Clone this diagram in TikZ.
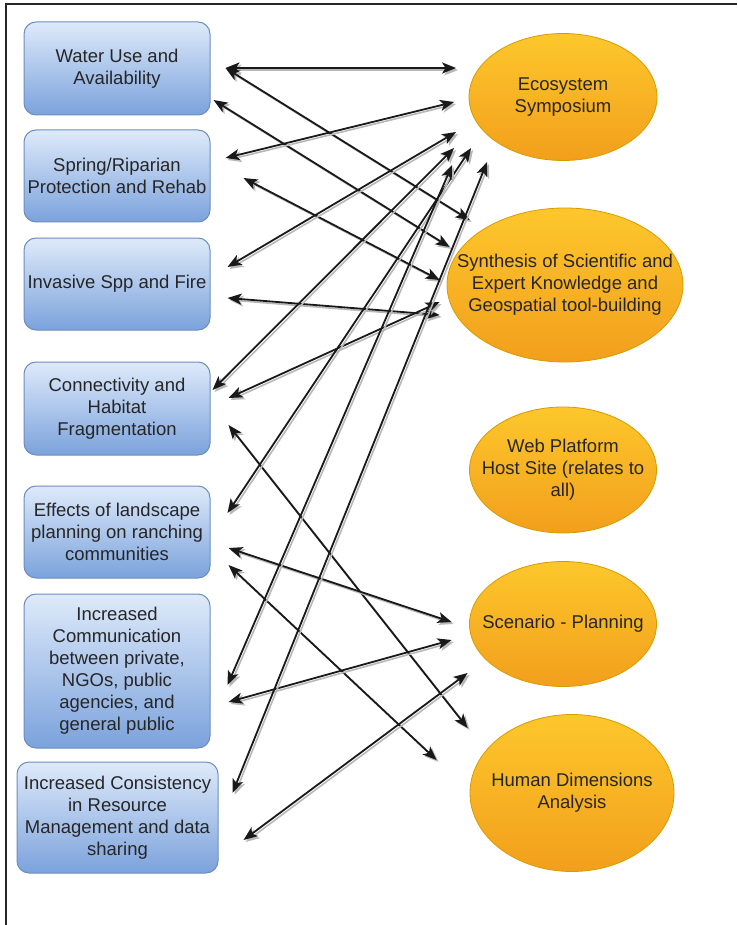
\documentclass[tikz,border=0pt]{standalone}
\usepackage{fontspec}
\setmainfont{Liberation Sans}
\usetikzlibrary{positioning, shapes.geometric, arrows.meta}

\definecolor{boxtop}{HTML}{DEEAFA}
\definecolor{boxbot}{HTML}{7BA2DC}
\definecolor{boxline}{HTML}{6C8EBF}
\definecolor{ovaltop}{HTML}{FDC72C}
\definecolor{ovalbot}{HTML}{F29F1C}
\definecolor{ovalline}{HTML}{D79B00}

\newcommand{\ovaltext}[1]{\makebox[0pt]{\begin{tabular}{@{}c@{}}#1\end{tabular}}}

\tikzset{
    topic/.style={draw=boxline, line width=1pt, rounded corners=12pt, top color=boxtop, bottom color=boxbot,
        align=center, minimum width=186pt, minimum height=93pt, inner sep=2pt, text=black!85, font=\fontsize{18.5}{22}\selectfont},
    hub/.style={ellipse, draw=ovalline, line width=0.8pt, top color=ovaltop, bottom color=ovalbot,
        inner sep=0pt, text=black!85, font=\fontsize{18.5}{22}\selectfont},
    link/.style={{Stealth[length=14pt,width=11pt,inset=3.5pt]}-{Stealth[length=14pt,width=11pt,inset=3.5pt]}, line width=1.8pt, black!90,
        preaction={draw=black!28, line width=1.6pt, transform canvas={shift={(2,2)}}}}
}

\begin{document}
\begin{tikzpicture}[x=1pt, y=-1pt]
            \useasboundingbox (0,0) rectangle (737,925);
            \draw[line width=2pt, black!85] (6,925) -- (6,4) -- (737,4);

            % topics
            \node[topic] (water) at (117,68.5) {Water Use and\\Availability};
            \node[topic, minimum height=92pt] (spring) at (117,176) {Spring/Riparian\\Protection and Rehab};
            \node[topic, minimum height=92pt] (invasive) at (117,284) {Invasive Spp and Fire};
            \node[topic] (connect) at (117,408.5) {Connectivity and\\Habitat\\Fragmentation};
            \node[topic, minimum height=92pt] (effects) at (117,532) {Effects of landscape\\planning on ranching\\communities};
            \node[topic, minimum height=154pt] (comm) at (117,671) {Increased\\Communication\\between private,\\NGOs, public\\agencies, and\\general public};
            \node[topic, minimum width=201pt, minimum height=111pt] (consist) at (117.5,817.5) {Increased Consistency\\in Resource\\Management and data\\sharing};

            % outcomes
            \node[hub, minimum width=188pt, minimum height=127pt] (eco) at (563,97) {\ovaltext{Ecosystem\\Symposium}};
            \node[hub, minimum width=236pt, minimum height=154pt] (synth) at (565,285) {\ovaltext{Synthesis of Scientific and\\Expert Knowledge and\\Geospatial tool-building}};
            \node[hub, minimum width=187pt, minimum height=126pt] (web) at (563,470) {\ovaltext{Web Platform\\Host Site (relates to\\all)}};
            \node[hub, minimum width=187pt, minimum height=125pt] (scen) at (563,624) {\ovaltext{Scenario - Planning}};
            \node[hub, minimum width=204pt, minimum height=157pt] (human) at (572,793) {\ovaltext{Human Dimensions\\Analysis}};

            % Draw edges
            \draw[link] ([shift={(15,-0.5)}]water.east) -- ([shift={(-12.5,-29)}]eco.west);
            \draw[link] ([shift={(15,-0.5)}]water.east) -- ([shift={(23,-65)}]synth.west);
            \draw[link] ([shift={(3,31.5)}]water.east) -- ([shift={(3,-38)}]synth.west);
            \draw[link] ([shift={(15,-18)}]spring.east) -- ([shift={(-14.5,5)}]eco.west);
            \draw[link] ([shift={(33,2)}]spring.east) -- ([shift={(-7,-5)}]synth.west);
            \draw[link] ([shift={(17,-17)}]invasive.east) -- ([shift={(-12.5,35)}]eco.west);
            \draw[link] ([shift={(17,14)}]invasive.east) -- ([shift={(-7,30)}]synth.west);
            \draw[link] ([shift={(2,-18.5)}]connect.east) -- ([shift={(-14.5,51)}]eco.west);
            \draw[link] ([shift={(18,-10.5)}]connect.east) -- ([shift={(-7,17)}]synth.west);
            \draw[link] ([shift={(18,16.5)}]connect.east) -- ([shift={(-2,-65)}]human.west);
            \draw[link] ([shift={(17,-19)}]effects.east) -- ([shift={(2.5,51)}]eco.west);
            \draw[link] ([shift={(18,16)}]effects.east) -- ([shift={(-17.5,-2)}]scen.west);
            \draw[link] ([shift={(18,33)}]effects.east) -- ([shift={(-33,-33)}]human.west);
            \draw[link] ([shift={(17,14)}]comm.east) -- ([shift={(-16.5,68)}]eco.west);
            \draw[link] ([shift={(18,31)}]comm.east) -- ([shift={(-17.5,16)}]scen.west);
            \draw[link] ([shift={(14,-24.5)}]consist.east) -- ([shift={(18.5,65)}]eco.west);
            \draw[link] ([shift={(25,22.5)}]consist.east) -- ([shift={(-1.5,49)}]scen.west);
        \end{tikzpicture}
\end{document}
